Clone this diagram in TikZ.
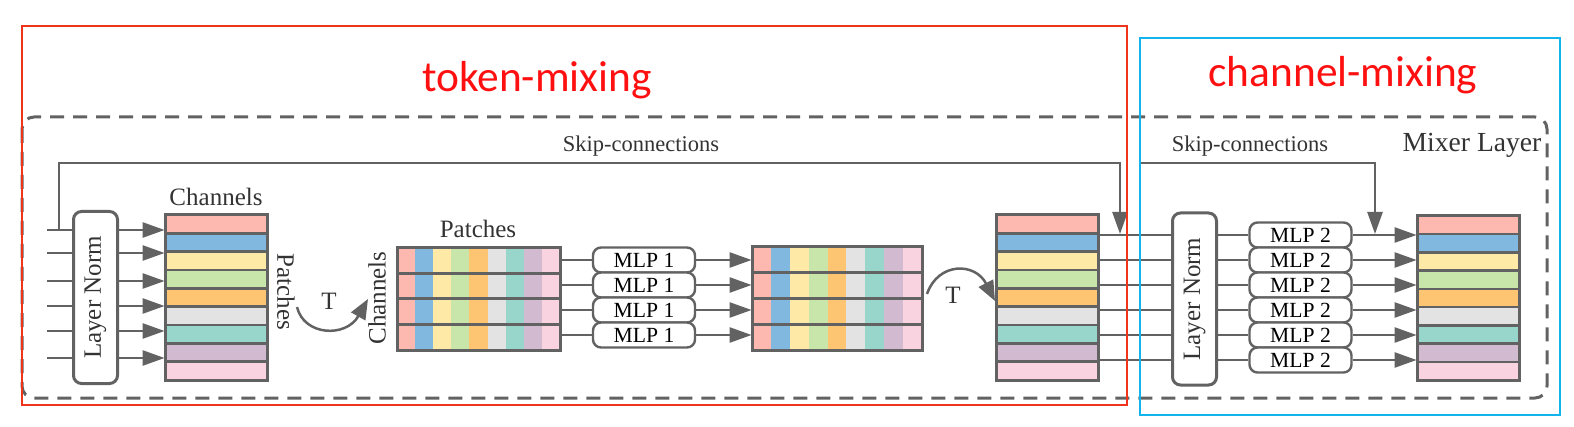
\documentclass[tikz,border=0pt]{standalone}
\usepackage{fontspec}
\setmainfont{Liberation Serif}
\newfontfamily\titlefont{Carlito}
\usetikzlibrary{arrows.meta,fit}
\definecolor{lg}{HTML}{626262}
\definecolor{c1}{HTML}{FDB9B0}
\definecolor{c2}{HTML}{80B8E0}
\definecolor{c3}{HTML}{FFE9A6}
\definecolor{c4}{HTML}{C8E6A9}
\definecolor{c5}{HTML}{FDC472}
\definecolor{c6}{HTML}{E3E3E3}
\definecolor{c7}{HTML}{98D5CA}
\definecolor{c8}{HTML}{D2BBD1}
\definecolor{c9}{HTML}{F9D3DF}
\definecolor{tred}{HTML}{FF1010}
\definecolor{bred}{HTML}{F0341C}
\definecolor{bblue}{HTML}{12B4EE}
\newcommand{\rowstack}[5]{%
  \foreach \c [count=\i from 0] in {c1,c2,c3,c4,c5,c6,c7,c8,c9}{%
    \pgfmathsetmacro\ya{#3+(#5-#3)*\i/9}%
    \pgfmathsetmacro\yb{#3+(#5-#3)*(\i+1)/9}%
    \filldraw[fill=\c, draw=lg, line width=1.2pt] (#2,\ya) rectangle (#4,\yb);
  }
  \draw[lg, line width=1.5pt] (#2,#3) rectangle (#4,#5);
  \node[inner sep=0pt, fit={(#2,#3) (#4,#5)}] (#1) {};
}
\newcommand{\colstack}[5]{%
  \foreach \c [count=\i from 0] in {c1,c2,c3,c4,c5,c6,c7,c8,c9}{%
    \pgfmathsetmacro\xa{#2+(#4-#2)*\i/9}%
    \pgfmathsetmacro\xb{#2+(#4-#2)*(\i+1)/9}%
    \fill[\c] (\xa,#3) rectangle (\xb,#5);
  }
  \foreach \j in {1,2,3}{%
    \draw[lg, line width=1.5pt] (#2,{#3+(#5-#3)*\j/4}) -- (#4,{#3+(#5-#3)*\j/4});
  }
  \draw[lg, line width=1.5pt] (#2,#3) rectangle (#4,#5);
  \node[inner sep=0pt, fit={(#2,#3) (#4,#5)}] (#1) {};
}
\tikzset{
  conn/.style={draw=lg, line width=1.25pt},
  arr/.style={conn, -{Triangle[length=11pt,width=7.5pt]}},
  tarr/.style={conn, -{Triangle[length=10pt,width=8pt]}},
  lnbox/.style={draw=lg, line width=1.5pt, rounded corners=4pt, fill=white, minimum width=22pt, minimum height=86pt, inner sep=0pt},
  mlp/.style={draw=lg, line width=1.2pt, rounded corners=4pt, fill=white, minimum width=51pt, minimum height=12.5pt, inner sep=0pt, font=\fontsize{10.8pt}{12pt}\selectfont},
  lbl/.style={inner sep=0pt, font=\fontsize{12.5pt}{14pt}\selectfont, text=black!80},
  sklbl/.style={inner sep=0pt, font=\fontsize{11.25pt}{13pt}\selectfont, text=black!80},
  title/.style={inner sep=0pt, text=tred, font=\titlefont\fontsize{21.7pt}{26pt}\selectfont},
}
\begin{document}
\begin{tikzpicture}[x=0.5pt,y=-0.5pt]
\useasboundingbox (0,0) rectangle (1574,427);
% dashed mixer layer
\draw[lg, line width=1.5pt, dash pattern=on 7pt off 4.5pt, rounded corners=6pt] (22,117) rectangle (1547,398);
\node[inner sep=0pt, font=\fontsize{13.8pt}{16pt}\selectfont, text=black!80] (mixer) at (1472,145) {Mixer Layer};
% rows
\coordinate (top) at (0,163);
\foreach \n/\y in {1/230,2/253,3/281,4/306,5/331,6/358}{\coordinate (in\n) at (47,\y);}
\foreach \n/\y in {1/235,2/260,3/285,4/310,5/335,6/360}{\coordinate (r\n) at (0,\y);}
% left layer norm
\node[lnbox] (ln1) at (95.5,297.5) {};
\node[lbl, rotate=90] at (ln1) {Layer Norm};
\rowstack{s1}{165}{215}{267}{380}
\node[lbl, above=4pt] (ch1) at (s1.north) {Channels};
\node[lbl, rotate=-90] (pa1) at (286,292) {Patches};
\foreach \n in {1,...,6}{
  \draw[conn] (in\n) -- (ln1.west |- in\n);
  \draw[arr] (ln1.east |- in\n) -- (s1.west |- in\n);
}
% skip 1
\coordinate (sk1s) at (59,230);
\coordinate (sk1e) at (1120,234);
\draw[arr] (sk1s) |- (sk1e |- top) -- (sk1e);
\node[sklbl] (skl1) at (641,146) {Skip-connections};
% T1
\coordinate (t1s) at (297,307);
\coordinate (t1e) at (368,299);
\draw[tarr] (t1s) .. controls (304,336) and (346,338) .. (t1e);
\node[lbl] (tl1) at (329,301) {T};
% middle stack
\colstack{s2}{397}{248}{560}{350}
\node[lbl] (pa2) at (478,229) {Patches};
\node[lbl, rotate=90] (ch2) at (377,298) {Channels};
\foreach \n/\y in {a/260,b/285,c/310,d/335}{
  \node[mlp] (m1\n) at (644,\y) {MLP 1};
}
\colstack{s3}{752}{247}{922}{350}
\foreach \n in {a,b,c,d}{
  \draw[conn] (s2.east |- m1\n) -- (m1\n.west);
  \draw[arr] (m1\n.east) -- (s3.west |- m1\n);
}
% T2
\coordinate (t2s) at (927,294);
\coordinate (t2e) at (995,301);
\draw[tarr] (t2s) .. controls (938,262) and (975,262) .. (t2e);
\node[lbl] (tl2) at (953,295) {T};
% right part
\rowstack{s4}{996}{215}{1098}{380}
\node[lnbox] (ln2) at (1194.5,299) {};
\node[lbl, rotate=90] at (ln2) {Layer Norm};
\foreach \n in {1,...,6}{
  \node[mlp] (m2\n) at (1300.5,{235+25*(\n-1)}) {MLP 2};
}
\rowstack{s5}{1417}{216}{1519}{380}
\foreach \n in {1,...,6}{
  \draw[conn] (s4.east |- r\n) -- (ln2.west |- r\n);
  \draw[conn] (ln2.east |- r\n) -- (m2\n.west);
  \draw[arr] (m2\n.east) -- (s5.west |- m2\n);
}
% skip 2
\coordinate (sk2s) at (1140,235);
\coordinate (sk2e) at (1375,234);
\draw[arr] (sk2s) |- (sk2e |- top) -- (sk2e);
\node[sklbl] (skl2) at (1250,146) {Skip-connections};
% token / channel mixing frames
\draw[bred, line width=1.3pt] (22,26) rectangle (1127,405);
\draw[bblue, line width=1.3pt] (1140,38) rectangle (1560,415);
\node[title] (tm) at (537,80) {token-mixing};
\node[title] (cm) at (1343,75) {channel-mixing};
\end{tikzpicture}
\end{document}
